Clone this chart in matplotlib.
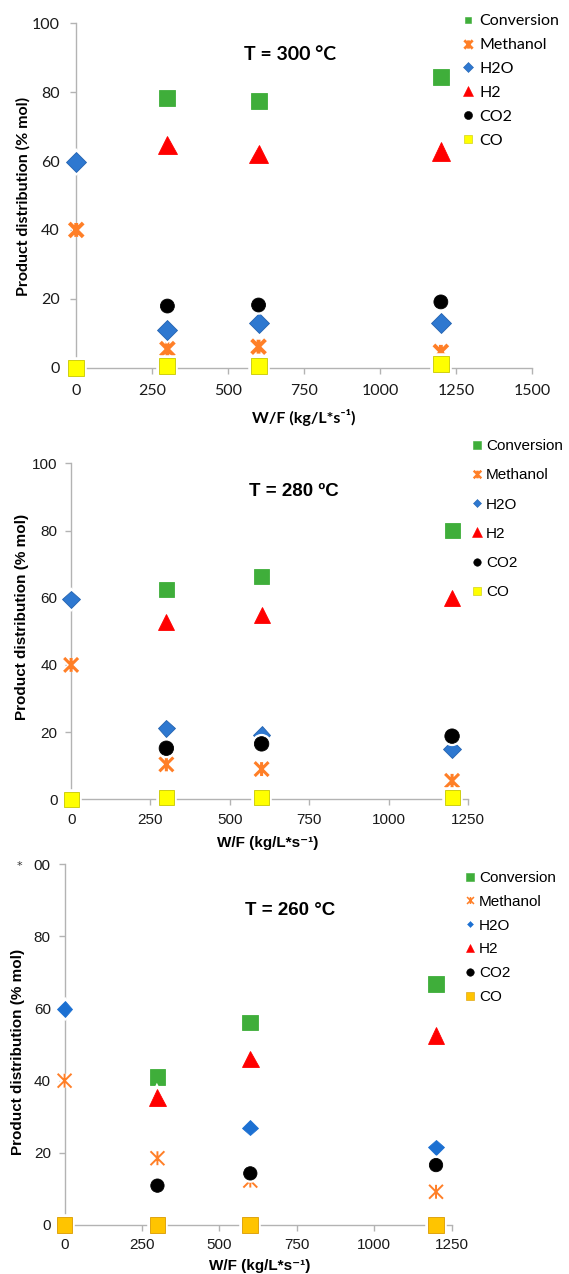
import numpy as np
import matplotlib
matplotlib.use("Agg")
import matplotlib.pyplot as plt
import matplotlib.patheffects as pe
from matplotlib.lines import Line2D
from matplotlib.path import Path

# ══════════════════════════════════════════════════════════════
# DONNÉES
# ══════════════════════════════════════════════════════════════

WF = [0, 300, 600, 1200]
SERIES = ["Conversion", "Methanol", "H2O", "H2", "CO2", "CO"]
nan = np.nan

# T = 300 °C
conv_300 = [nan, 78.2, 77.4, 84.3]
meoh_300 = [40.0, 5.4, 6.1, 4.6]
h2o_300  = [59.6, 10.9, 12.9, 12.9]
h2_300   = [nan, 64.7, 62.1, 62.8]
co2_300  = [nan, 17.9, 18.2, 19.1]
co_300   = [0.0, 0.6, 0.6, 1.0]

# T = 280 °C
conv_280 = [nan, 62.5, 66.3, 79.9]
meoh_280 = [40.0, 10.4, 9.0, 5.5]
h2o_280  = [59.5, 21.1, 19.1, 15.0]
h2_280   = [nan, 52.8, 54.9, 60.0]
co2_280  = [nan, 15.2, 16.5, 18.8]
co_280   = [0.0, 0.5, 0.5, 0.5]

# T = 260 °C
conv_260 = [nan, 41.1, 56.1, 66.8]
meoh_260 = [40.0, 18.5, 12.3, 9.2]
h2o_260  = [59.9, nan, 27.0, 21.5]
h2_260   = [nan, 35.4, 46.0, 52.5]
co2_260  = [nan, 10.9, 14.3, 16.6]
co_260   = [0.0, 0.0, 0.0, 0.0]

# marqueur "étoile" Excel : X + trait vertical
STAR = Path([(-1, -1), (1, 1), (-1, 1), (1, -1), (0, -1), (0, 1)],
            [Path.MOVETO, Path.LINETO, Path.MOVETO, Path.LINETO,
             Path.MOVETO, Path.LINETO])

AXIS_GREY = "#B3B3B3"

# style par série : (marker, face, edge)
STYLE_A = {
    "Conversion": ("s", "#3FAE3A", "#3FAE3A"),
    "Methanol":   (STAR, "#FF7F27", "#FF7F27"),
    "H2O":        ("D", "#2E78D0", "#2463B0"),
    "H2":         ("^", "#FF0000", "#FF0000"),
    "CO2":        ("o", "#000000", "#000000"),
    "CO":         ("s", "#FFFF00", "#C8C800"),
}
STYLE_C = dict(STYLE_A)
STYLE_C["CO"] = ("s", "#FFC400", "#D99A00")
STYLE_C["H2O"] = ("D", "#1C70D2", "#1C70D2")

PANELS = [
    dict(title="T = 300 °C", data=[conv_300, meoh_300, h2o_300, h2_300, co2_300, co_300],
         rect=[0.134, 0.7114, 0.801, 0.2703], xmax=1500, xticks=[0, 250, 500, 750, 1000, 1250, 1500],
         font="Lato", fs=11.5, tfs=14, style=STYLE_A,
         ms=[11.5, 10.0, 10.2, 13.2, 10.0, 11.5], star_lw=2.8,
         leg_ms=[5.0, 6.0, 4.6, 7.0, 5.8, 5.4], leg_star_lw=2.0,
         title_xy=(704, 90.8), ylab=(-0.115, 0.496), xlab=(0.4985, -0.145),
         leg_anchor=(462 / 569, 1 - 14 / 1274), leg_hl=0.8, leg_pad=0.3, leg_sp=0.61,
         ypad=7.5, xpad=7.5, yticklabels=None),
    dict(title="T = 280 ºC", data=[conv_280, meoh_280, h2o_280, h2_280, co2_280, co_280],
         rect=[0.125, 0.3726, 0.6974, 0.2637], xmax=1250, xticks=[0, 250, 500, 750, 1000, 1250],
         font="Liberation Sans", fs=11, tfs=13.5, style=STYLE_A,
         ms=[10.8, 10.0, 9.0, 11.5, 10.4, 10.8], star_lw=2.2,
         leg_ms=[5.2, 5.5, 4.0, 6.5, 5.4, 5.2], leg_star_lw=1.7,
         title_xy=(701, 91.5), ylab=(-0.124, 0.543), xlab=(0.496, -0.13),
         leg_anchor=(472.4 / 569, 1 - 439 / 1274), leg_hl=0.6, leg_pad=0.3, leg_sp=1.0,
         ypad=5.4, xpad=5, yticklabels=None),
    dict(title="T = 260 °C", data=[conv_260, meoh_260, h2o_260, h2_260, co2_260, co_260],
         rect=[0.1135, 0.0385, 0.680, 0.2831], xmax=1250, xticks=[0, 250, 500, 750, 1000, 1250],
         font="Liberation Sans", fs=11, tfs=13.5, style=STYLE_C,
         ms=[11.3, 10.0, 8.0, 12.0, 9.6, 11.3], star_lw=1.4,
         leg_ms=[5.7, 5.0, 3.0, 5.8, 5.4, 5.7], leg_star_lw=1.1,
         title_xy=(728, 87.1), ylab=(-0.12, 0.48), xlab=(0.503, -0.114),
         leg_anchor=(465.8 / 569, 1 - 871 / 1274), leg_hl=0.6, leg_pad=0.25, leg_sp=0.64,
         ypad=5.4, xpad=5, yticklabels=["0", "20", "40", "60", "80", "00"]),
]


def draw_panel(fig, p):
    ax = fig.add_axes(p["rect"])
    fam = [p["font"], "DejaVu Sans"]
    halo = [pe.Stroke(linewidth=4, foreground="white"), pe.Normal()]

    for i, (name, vals) in enumerate(zip(SERIES, p["data"])):
        marker, face, edge = p["style"][name]
        is_star = name == "Methanol"
        ax.plot(WF, vals, ls="none", marker=marker, ms=p["ms"][i],
                mfc=face, mec=edge, mew=p["star_lw"] if is_star else 0.6,
                clip_on=False, zorder=3 + i, path_effects=halo)

    ax.set_xlim(0, p["xmax"])
    ax.set_ylim(0, 100)
    ax.set_xticks(p["xticks"])
    ax.set_yticks([0, 20, 40, 60, 80, 100])
    if p["yticklabels"]:
        ax.set_yticklabels(p["yticklabels"])

    for s in ["top", "right"]:
        ax.spines[s].set_visible(False)
    for s in ["left", "bottom"]:
        ax.spines[s].set_color(AXIS_GREY)
        ax.spines[s].set_linewidth(1.0)
    ax.tick_params(direction="out", length=4.5, width=1.0, color=AXIS_GREY,
                   labelsize=p["fs"], labelcolor="#1A1A1A")
    ax.tick_params(axis="x", pad=p["xpad"])
    ax.tick_params(axis="y", pad=p["ypad"])
    for lab in ax.get_xticklabels() + ax.get_yticklabels():
        lab.set_family(fam)

    ax.set_ylabel("Product distribution (% mol)", family=fam, fontsize=p["fs"],
                  weight="bold", va="center")
    ax.yaxis.set_label_coords(*p["ylab"])
    ax.set_xlabel("W/F (kg/L*s⁻¹)", family=fam, fontsize=p["fs"],
                  weight="bold", va="center")
    ax.xaxis.set_label_coords(*p["xlab"])

    ax.text(p["title_xy"][0], p["title_xy"][1], p["title"], family=fam,
            fontsize=p["tfs"], weight="bold", ha="center", va="center")

    handles = []
    for i, name in enumerate(SERIES):
        marker, face, edge = p["style"][name]
        is_star = name == "Methanol"
        handles.append(Line2D([], [], ls="none", marker=marker, ms=p["leg_ms"][i],
                              mfc=face, mec=edge,
                              mew=p["leg_star_lw"] if is_star else 0.4, label=name))
    ax.legend(handles=handles, loc="upper left", bbox_to_anchor=p["leg_anchor"],
              bbox_transform=fig.transFigure, frameon=False, borderpad=0,
              borderaxespad=0, handlelength=p["leg_hl"], handletextpad=p["leg_pad"],
              labelspacing=p["leg_sp"], prop=dict(family=fam, size=p["fs"]))
    return ax


fig = plt.figure(figsize=(5.69, 12.74), dpi=100)
for p in PANELS:
    draw_panel(fig, p)

# petit astérisque parasite à gauche du dernier graphe
fig.text(19 / 569, 1 - 866 / 1274, "*", fontsize=8, color="#333333",
         ha="center", va="center")

fig.savefig("out.png", dpi=100)
